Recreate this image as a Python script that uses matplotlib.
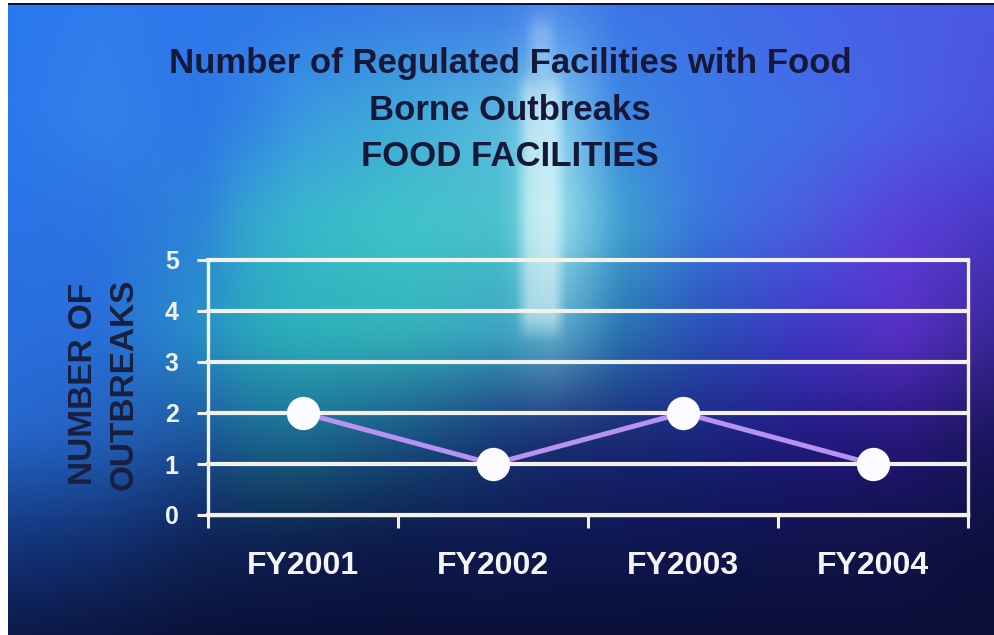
import numpy as np
import matplotlib
matplotlib.use("Agg")
import matplotlib.pyplot as plt
from matplotlib.patches import Rectangle

plt.rcParams['font.family'] = ['Liberation Sans', 'DejaVu Sans']

# ---- chart data ----
years = ["FY2001", "FY2002", "FY2003", "FY2004"]
outbreaks = [2, 1, 2, 1]
y_ticks = [0, 1, 2, 3, 4, 5]
title_lines = ["Number of Regulated Facilities with Food",
               "Borne Outbreaks",
               "FOOD FACILITIES"]
y_label = "NUMBER OF\nOUTBREAKS"

W, H = 995, 635

# ---- slide backdrop: smooth blue / teal / violet wash ----
col_x = [0, 100, 200, 250, 300, 400, 500, 550, 620, 700, 800, 900, 995]
row_y = [0, 120, 220, 330, 430, 480, 540, 635]
row_colors = [
    ["#2a78f0", "#2f7cee", "#2e78ec", "#3078ea", "#3278ea", "#3a7ae8", "#3c7ae8", "#4a88ea", "#3c74e8", "#3f70e8", "#4466e8", "#4a5ee6", "#4a58e4"],
    ["#2a78ee", "#3580e8", "#2d78e8", "#3284e4", "#3a9ae0", "#40acd8", "#5ab8e0", "#90d8ee", "#3c88e2", "#3c78e6", "#4070e8", "#4a60e6", "#4a52e0"],
    ["#2a72e8", "#2c74e2", "#2e84d8", "#34a8d0", "#38b8cc", "#40c4c8", "#4ac2cc", "#a8e8f0", "#40a4d0", "#3a78e0", "#4a5ee0", "#5a40d8", "#4a38c8"],
    ["#2a6ee0", "#286ed8", "#2890c8", "#2aa8bc", "#2eb2bc", "#34b4bc", "#3ca8c4", "#60b4d0", "#2a74b4", "#2a52b8", "#4038c8", "#5a30c8", "#3a2898"],
    ["#2868d0", "#2462c0", "#1e5aa0", "#1c6a98", "#1c6e94", "#1a5a88", "#1a3c7c", "#1c3478", "#1c2c78", "#1c2680", "#241c88", "#2a1880", "#1e1660"],
    ["#1e52a8", "#1c4c9c", "#163c7c", "#14466e", "#14486c", "#123868", "#132a64", "#142264", "#142064", "#141c68", "#181668", "#1a1462", "#141250"],
    ["#143580", "#123070", "#0f2458", "#0e2254", "#0e2050", "#0d1a4c", "#0f1a52", "#0f1852", "#0f1852", "#0f1550", "#11144c", "#11134a", "#0e103e"],
    ["#0c1a48", "#0b1642", "#0a1238", "#0a1038", "#0a1038", "#0a1038", "#0a1038", "#0a1038", "#0a1038", "#0a1038", "#0a1038", "#0a1038", "#0a1038"],
]


def hex_rgb(h):
    h = h.lstrip("#")
    return [int(h[i:i + 2], 16) / 255 for i in (0, 2, 4)]


def box_blur(a, n, axis):
    k = np.ones(2 * n + 1) / (2 * n + 1)
    return np.apply_along_axis(
        lambda v: np.convolve(np.pad(v, n, mode='edge'), k, mode='valid'), axis, a)


ctrl = np.array([[hex_rgb(c) for c in row] for row in row_colors])
px = np.arange(W)
py = np.arange(H)
rows = np.zeros((len(row_y), W, 3))
for i in range(len(row_y)):
    for c in range(3):
        rows[i, :, c] = np.interp(px, col_x, ctrl[i, :, c])
img = np.zeros((H, W, 3))
for c in range(3):
    for j in range(W):
        img[:, j, c] = np.interp(py, row_y, rows[:, j, c])

# soften the interpolation creases (more vertically than horizontally)
for c in range(3):
    img[:, :, c] = box_blur(img[:, :, c], 25, 0)
    img[:, :, c] = box_blur(img[:, :, c], 10, 1)

# soft pale vertical streak near the centre
streak = np.zeros((H, W))
streak[80:330, 522:560] = 1.0
streak[20:90, 530:552] = 0.5
streak = box_blur(box_blur(streak, 12, 0), 6, 1)
img = img + (1 - img) * 0.45 * streak[:, :, None]

fig = plt.figure(figsize=(W / 100, H / 100), dpi=100)
bg = fig.add_axes([0, 0, 1, 1])
bg.imshow(np.clip(img, 0, 1), extent=(0, W, H, 0), aspect='auto', interpolation='bilinear')
bg.set_xlim(0, W)
bg.set_ylim(H, 0)
bg.axis('off')

# image frame: white margin on the left and top, thin dark rule under it
bg.add_patch(Rectangle((0, 0), 8, H, color='white', lw=0))
bg.add_patch(Rectangle((0, 0), W, 3, color='white', lw=0))
bg.add_patch(Rectangle((8, 3), W, 2, color='#0a0f40', lw=0))

# ---- titles ----
title_y = [63, 110, 157]
for line, yp in zip(title_lines, title_y):
    fig.text(510 / W, 1 - yp / H, line, ha='center', va='center',
             fontsize=25, fontweight='bold', color='#16183a')

fig.text(104 / W, 1 - 384 / H, y_label, rotation=90, ha='center', va='center',
         fontsize=24, fontweight='bold', color='#17203e', linespacing=1.4,
         multialignment='center')

# ---- plot area ----
ax = fig.add_axes([208 / W, 1 - 515 / H, 760 / W, 255 / H])
ax.patch.set_alpha(0)
ax.set_xlim(0, len(years))
ax.set_ylim(0, 5)

xpos = np.arange(len(years)) + 0.5
grid_col = '#f3f1ea'

ax.set_yticks(y_ticks)
ax.yaxis.grid(True, color=grid_col, lw=3)
for gl in ax.get_ygridlines():
    gl.set_clip_on(False)
ax.set_axisbelow(True)

ax.set_xticks(np.arange(len(years) + 1))
ax.set_xticklabels([])
ax.set_xticks(xpos, minor=True)
ax.set_xticklabels(years, minor=True)

ax.tick_params(axis='x', which='major', direction='out', length=9, width=2.2, color=grid_col)
ax.tick_params(axis='x', which='minor', length=0, pad=26, labelsize=23, labelcolor='#f4f4f4')
ax.tick_params(axis='y', direction='out', length=8, width=2.2, color=grid_col,
               pad=13, labelsize=18, labelcolor='#eef2f0')
for lab in ax.get_xticklabels(minor=True) + ax.get_yticklabels():
    lab.set_fontweight('bold')

for side in ['left', 'bottom', 'right']:
    ax.spines[side].set_color(grid_col)
    ax.spines[side].set_linewidth(2.4)
ax.spines['top'].set_visible(False)

# line with white markers
ax.plot(xpos, outbreaks, color='#b792f0', lw=3.6, zorder=4, solid_capstyle='round')
ax.plot(xpos, outbreaks, ls='none', marker='o', ms=24, mfc='#fbfaff', mec='#fbfaff',
        mew=0, zorder=6, clip_on=False)

fig.savefig('out.png', dpi=100)
